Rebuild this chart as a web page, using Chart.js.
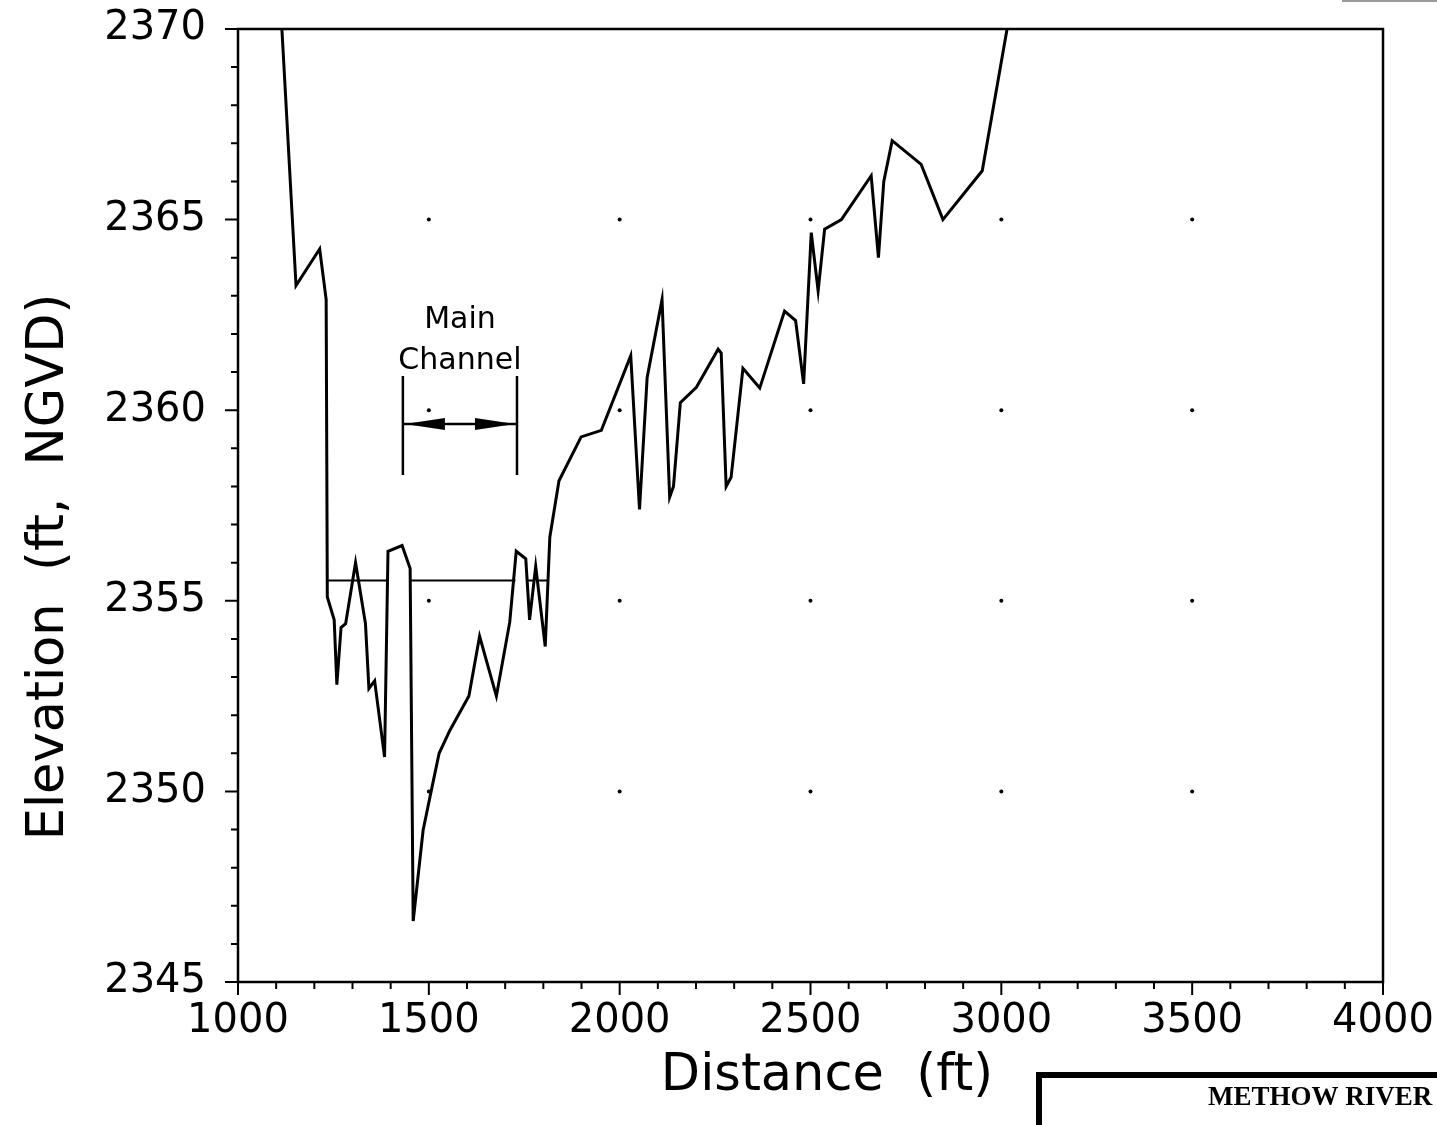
<!DOCTYPE html>
<html><head><meta charset="utf-8">
<script src="https://cdn.jsdelivr.net/npm/chart.js@4.4.1/dist/chart.umd.min.js"></script>
<style>html,body{margin:0;padding:0;background:#fff;overflow:hidden}#wrap{width:1437px;height:1125px}</style>
</head><body><div id="wrap"><canvas id="c" width="1437" height="1125"></canvas></div>
<script>
// ---- data ----
const groundX = [1115,1152,1214,1231,1234,1252,1259,1270,1282,1308,1334,1343,1358,1384,1393,1430,1451,1459,1485,1506,1527,1555,1605,1633,1677,1712,1729,1754,1764,1780,1805,1817,1841,1899,1952,2029,2052,2072,2111,2131,2141,2159,2201,2258,2266,2279,2292,2323,2367,2432,2461,2482,2502,2520,2537,2581,2659,2678,2692,2714,2790,2847,2950,3015];
const groundY = [2370,2363.27,2364.23,2362.9,2355.1,2354.5,2352.8,2354.3,2354.4,2356.0,2354.4,2352.7,2352.9,2350.9,2356.3,2356.45,2355.85,2346.6,2348.98,2350.0,2351.0,2351.6,2352.5,2354.07,2352.5,2354.44,2356.3,2356.1,2354.5,2355.9,2353.8,2356.67,2358.15,2359.3,2359.47,2361.43,2357.4,2360.86,2362.9,2357.72,2358.0,2360.2,2360.6,2361.6,2361.5,2358.0,2358.24,2361.1,2360.58,2362.6,2362.35,2360.69,2364.66,2363.13,2364.75,2365.0,2366.15,2364.0,2366.0,2367.07,2366.45,2365.0,2366.28,2370];
const waterX = [1234,1390,null,1451,1727,null,1760,1774,null,1784,1813];
const waterY = [2355.53,2355.53,null,2355.53,2355.53,null,2355.53,2355.53,null,2355.53,2355.53];
const channelBankX = [1432,1731];
const channelMarkY = [2358.3,2360.9];
const channelArrowY = 2359.64;
const channelLabels = ['Main','Channel'];
const channelLabelY = [2362.36,2361.28];
const xTicks = [1000,1500,2000,2500,3000,3500,4000];
const yTicks = [2345,2350,2355,2360,2365,2370];
const xTitle = 'Distance  (ft)';
const yTitle = 'Elevation  (ft,  NGVD)';
const boxLabel = 'METHOW RIVER';

const FONT = "'DejaVu Sans'";
const toPts = (xs, ys) => xs.map((x,i) => (x===null ? {x:NaN,y:null} : {x:x, y:ys[i]}));

const decor = {
  id:'decor',
  afterDatasetsDraw(chart){
    const ctx = chart.ctx, a = chart.chartArea, xs = chart.scales.x, ys = chart.scales.y;
    ctx.save();
    ctx.strokeStyle = '#000'; ctx.fillStyle = '#000';
    // frame
    ctx.lineWidth = 2.5;
    ctx.strokeRect(a.left, a.top, a.right - a.left, a.bottom - a.top);
    // ticks
    ctx.lineWidth = 2;
    ctx.beginPath();
    for (let v = xs.min; v <= xs.max + 1e-6; v += 100) {
      const p = xs.getPixelForValue(v), major = Math.abs(v % 500) < 1e-6;
      ctx.moveTo(p, a.bottom); ctx.lineTo(p, a.bottom + (major ? 13 : 7));
    }
    for (let v = ys.min; v <= ys.max + 1e-6; v += 1) {
      const p = ys.getPixelForValue(v), major = Math.abs((v - 2345) % 5) < 1e-6;
      ctx.moveTo(a.left, p); ctx.lineTo(a.left - (major ? 13 : 7), p);
    }
    ctx.stroke();
    // grid dots
    xTicks.slice(1,-1).forEach(xv => yTicks.slice(1,-1).forEach(yv => {
      ctx.beginPath(); ctx.arc(xs.getPixelForValue(xv), ys.getPixelForValue(yv), 2, 0, Math.PI*2); ctx.fill();
    }));
    // main channel annotation
    const bl = xs.getPixelForValue(channelBankX[0]), br = xs.getPixelForValue(channelBankX[1]);
    const yb = ys.getPixelForValue(channelMarkY[0]), yt = ys.getPixelForValue(channelMarkY[1]);
    const ya = ys.getPixelForValue(channelArrowY);
    ctx.lineWidth = 2.5;
    ctx.beginPath();
    ctx.moveTo(bl, yt); ctx.lineTo(bl, yb);
    ctx.moveTo(br, yt); ctx.lineTo(br, yb);
    ctx.moveTo(bl, ya); ctx.lineTo(br, ya);
    ctx.stroke();
    ctx.beginPath();
    ctx.moveTo(bl + 2, ya); ctx.lineTo(bl + 42, ya - 6); ctx.lineTo(bl + 42, ya + 6); ctx.closePath();
    ctx.moveTo(br - 2, ya); ctx.lineTo(br - 42, ya - 6); ctx.lineTo(br - 42, ya + 6); ctx.closePath();
    ctx.fill();
    ctx.font = '30px ' + FONT;
    ctx.textAlign = 'center'; ctx.textBaseline = 'middle';
    const cx = (bl + br) / 2;
    channelLabels.forEach((t,i) => ctx.fillText(t, cx, ys.getPixelForValue(channelLabelY[i])));
    // axis titles
    ctx.font = '51px ' + FONT;
    ctx.fillText(xTitle, 827, 1077);
    ctx.save();
    ctx.translate(50, 567); ctx.rotate(-Math.PI/2);
    ctx.fillText(yTitle, 0, 0);
    ctx.restore();
    // title block box
    ctx.lineWidth = 6;
    ctx.beginPath();
    ctx.moveTo(1039, 1140); ctx.lineTo(1039, 1075); ctx.lineTo(1450, 1075);
    ctx.stroke();
    ctx.font = "bold 27px 'Liberation Serif'";
    ctx.textAlign = 'left';
    ctx.fillText(boxLabel, 1208, 1098);
    // scan edge at top right
    ctx.strokeStyle = '#999'; ctx.lineWidth = 2;
    ctx.beginPath(); ctx.moveTo(1342, 1); ctx.lineTo(1437, 1); ctx.stroke();
    ctx.restore();
  }
};

const zeroPad = s => { s.paddingTop = 0; s.paddingBottom = 0; s.paddingLeft = 0; s.paddingRight = 0; };

new Chart(document.getElementById('c'), {
  type: 'scatter',
  data: {
    datasets: [
      { label:'Ground', data: toPts(groundX, groundY), showLine:true, borderColor:'#000', borderWidth:3, pointRadius:0, tension:0, spanGaps:false },
      { label:'Water surface', data: toPts(waterX, waterY), showLine:true, borderColor:'#000', borderWidth:2, pointRadius:0, tension:0, spanGaps:false }
    ]
  },
  options: {
    responsive:false, animation:false, devicePixelRatio:1,
    layout:{ padding:{ top:29, right:54, left:0, bottom:0 } },
    plugins:{ legend:{display:false}, tooltip:{enabled:false} },
    scales:{
      x:{ type:'linear', min:1000, max:4000,
          afterBuildTicks(s){ s.ticks = xTicks.map(v => ({value:v})); },
          afterFit(s){ s.height = 143; zeroPad(s); },
          ticks:{ color:'#000', font:{family:FONT, size:40}, padding:8, maxRotation:0, autoSkip:false, callback:v => String(v) },
          grid:{ display:false }, border:{ display:false } },
      y:{ type:'linear', min:2345, max:2370,
          afterBuildTicks(s){ s.ticks = yTicks.map(v => ({value:v})); },
          afterFit(s){ s.width = 238; zeroPad(s); },
          ticks:{ color:'#000', font:{family:FONT, size:40}, padding:24, autoSkip:false, callback:v => String(v) },
          grid:{ display:false }, border:{ display:false } }
    }
  },
  plugins:[decor]
});
</script>
</body></html>
